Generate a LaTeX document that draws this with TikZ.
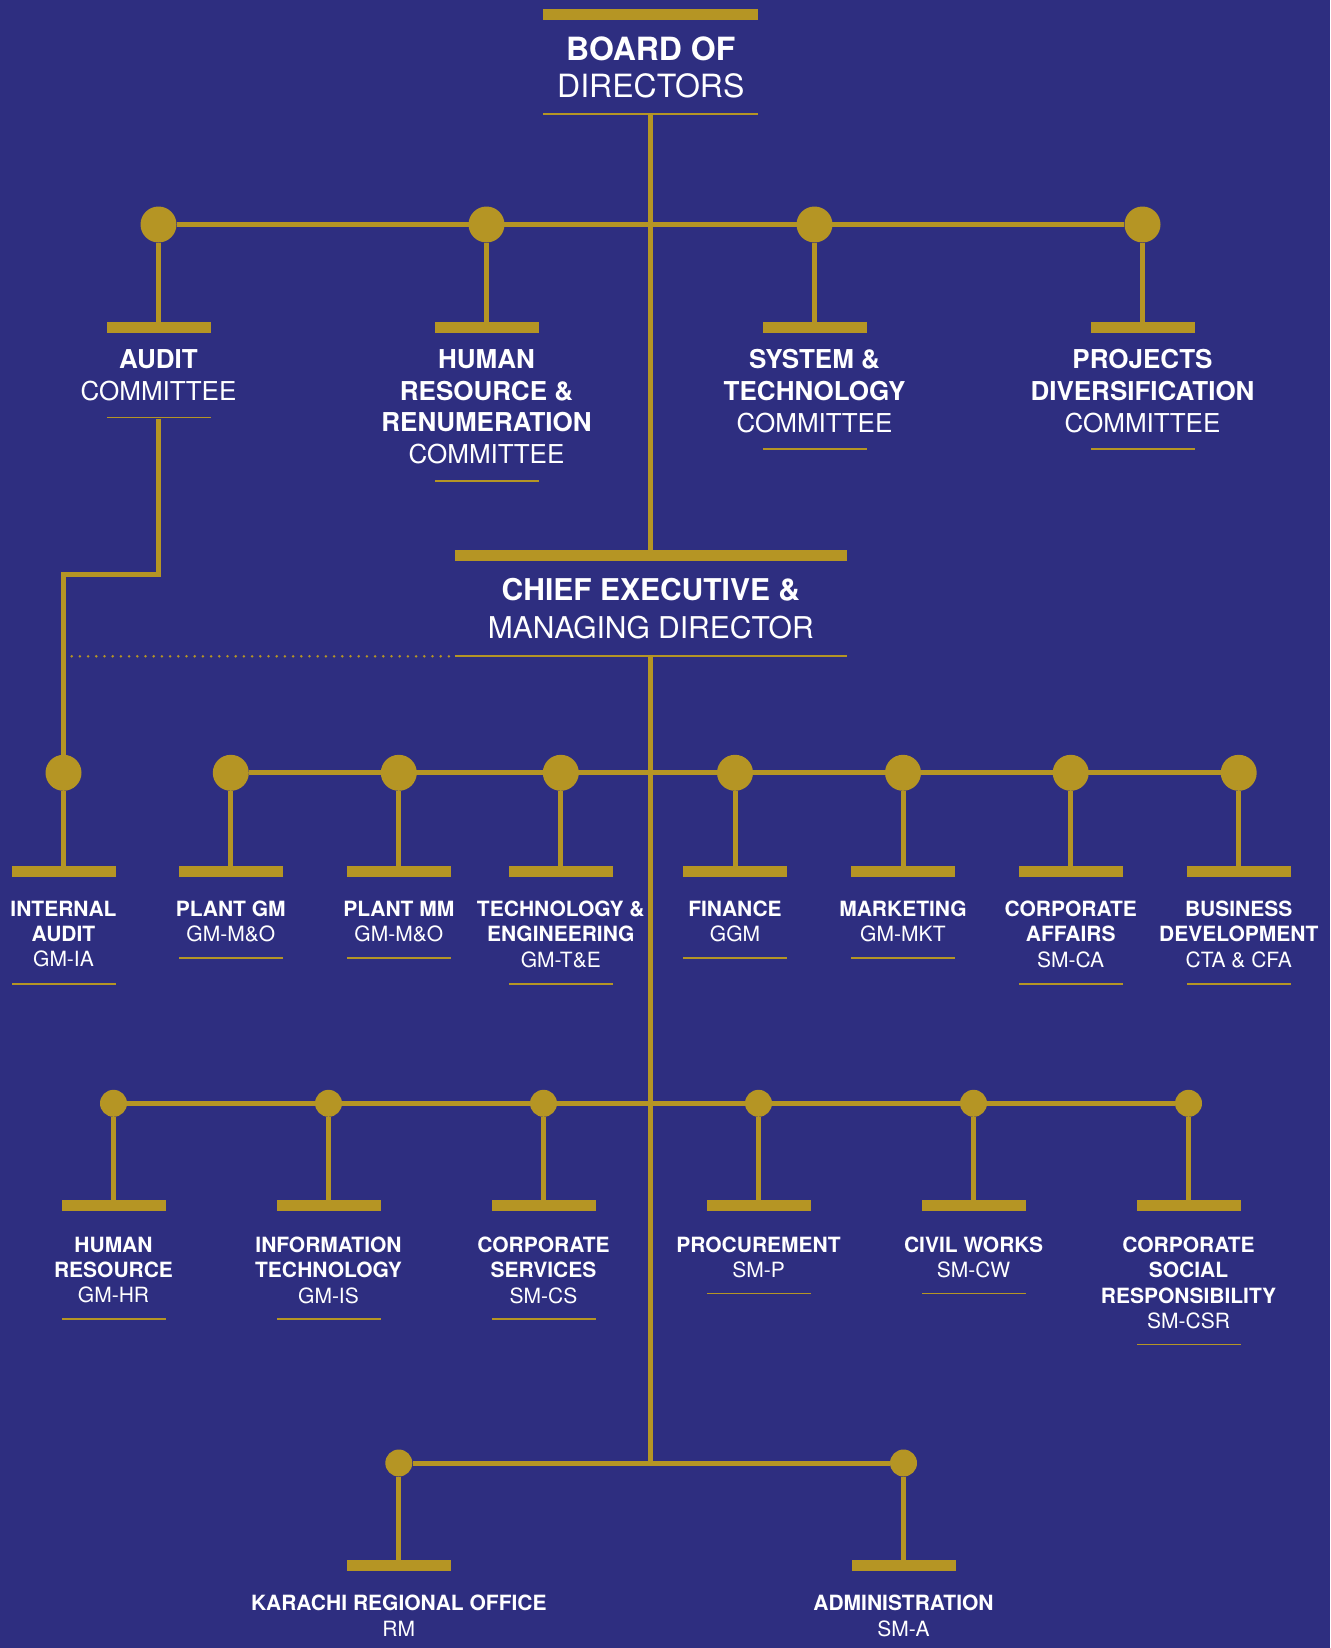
\documentclass[tikz,border=0pt]{standalone}
\usepackage{fontspec}
\setmainfont{TeX Gyre Heros}
\usetikzlibrary{positioning}
\definecolor{bgblue}{RGB}{46,46,128}
\definecolor{mustard}{RGB}{181,149,36}
\newcommand{\bodfont}{\fontsize{32}{37}\selectfont}
\newcommand{\ceofont}{\fontsize{30}{38}\selectfont}
\newcommand{\comfont}{\fontsize{26}{31.7}\selectfont}
\newcommand{\deptfont}{\fontsize{21}{25.3}\selectfont}

\begin{document}
\begin{tikzpicture}[x=1pt,y=-1pt]%
                    \fill[bgblue] (0,0) rectangle (1330,1648); %% background
                    \useasboundingbox (0,0) rectangle (1330,1648); %%
                    \tikzstyle{wire}=[mustard,line width=5pt]
                    \tikzstyle{dotline}=[mustard,line width=2.8pt,line cap=round,dash pattern=on 0pt off 8.2pt]
                    \tikzstyle{knob}=[circle,fill=mustard,inner sep=0pt,minimum size=36pt]
                    \tikzstyle{smallknob}=[circle,fill=mustard,inner sep=0pt,minimum size=27pt]
                    \tikzstyle{barbox}=[rectangle,fill=mustard,inner sep=0pt,minimum width=104pt,minimum height=10.7pt]
                    \tikzstyle{rulebox}=[rectangle,fill=mustard,inner sep=0pt,minimum width=104pt,minimum height=1.8pt]
                    \tikzstyle{txt}=[text=white,align=center,anchor=north,inner sep=0pt]
                    %% board and chief executive
                    \node[barbox,minimum width=215pt] (bodbar) at (650.8,14.7) {}; %%
                    \node[txt,font=\bodfont] (bod) at (650.8,37) {\textbf{BOARD OF}\\DIRECTORS}; %%
                    \node[rulebox,minimum width=215pt] (bodrule) at (650.8,114) {}; %%
                    \node[barbox,minimum width=392pt] (ceobar) at (650.8,555.3) {}; %%
                    \node[txt,font=\ceofont] (ceo) at (650.8,577.7) {\textbf{CHIEF EXECUTIVE \&}\\MANAGING DIRECTOR}; %%
                    \node[rulebox,minimum width=392pt] (ceorule) at (650.8,656.3) {}; %%
                    \coordinate (hub) at (650.8,1463); %%
                    %% committees
                    \foreach \n/\x in {au/158.5,hc/486.5,st/814.5,pd/1142.5}{
                        \node[knob] (k\n) at (\x,224.5) {}; %%
                        \node[barbox] (b\n) at (\x,327.7) {}; %%
                    }
                    \node[txt,font=\comfont] (tau) at (158.5,349.3) {\textbf{AUDIT}\\COMMITTEE}; %%
                    \node[txt,font=\comfont] (thc) at (486.5,349.3) {\textbf{HUMAN}\\\textbf{RESOURCE \&}\\\textbf{RENUMERATION}\\COMMITTEE}; %%
                    \node[txt,font=\comfont] (tst) at (814.5,349.3) {\textbf{SYSTEM \&}\\\textbf{TECHNOLOGY}\\COMMITTEE}; %%
                    \node[txt,font=\comfont] (tpd) at (1142.5,349.3) {\textbf{PROJECTS}\\\textbf{DIVERSIFICATION}\\COMMITTEE}; %%
                    %% departments under the chief executive
                    \foreach \n/\x in {ia/63.5,pg/230.8,pm/398.8,te/560.8,fi/735,mk/903,ca/1070.7,bd/1238.7}{
                        \node[knob] (k\n) at (\x,772.8) {}; %%
                        \node[barbox] (b\n) at (\x,871.3) {}; %%
                    }
                    \node[txt,font=\deptfont] (tia) at (63.5,900.7) {\textbf{INTERNAL}\\\textbf{AUDIT}\\GM-IA}; %%
                    \node[txt,font=\deptfont] (tpg) at (230.8,900.7) {\textbf{PLANT GM}\\GM-M\&O}; %%
                    \node[txt,font=\deptfont] (tpm) at (398.8,900.7) {\textbf{PLANT MM}\\GM-M\&O}; %%
                    \node[txt,font=\deptfont] (tte) at (560.8,900.7) {\textbf{TECHNOLOGY \&}\\\textbf{ENGINEERING}\\GM-T\&E}; %%
                    \node[txt,font=\deptfont] (tfi) at (735,900.7) {\textbf{FINANCE}\\GGM}; %%
                    \node[txt,font=\deptfont] (tmk) at (903,900.7) {\textbf{MARKETING}\\GM-MKT}; %%
                    \node[txt,font=\deptfont] (tca) at (1070.7,900.7) {\textbf{CORPORATE}\\\textbf{AFFAIRS}\\SM-CA}; %%
                    \node[txt,font=\deptfont] (tbd) at (1238.7,900.7) {\textbf{BUSINESS}\\\textbf{DEVELOPMENT}\\CTA \& CFA}; %%
                    \foreach \n/\x in {hr/113.5,it/328.5,cs/543.5,pr/758.5,cw/973.5,csr/1188.5}{
                        \node[smallknob] (k\n) at (\x,1103.3) {}; %%
                        \node[barbox] (b\n) at (\x,1205.8) {}; %%
                    }
                    \node[txt,font=\deptfont] (thr) at (113.5,1236.7) {\textbf{HUMAN}\\\textbf{RESOURCE}\\GM-HR}; %%
                    \node[txt,font=\deptfont] (tit) at (328.5,1236.7) {\textbf{INFORMATION}\\\textbf{TECHNOLOGY}\\GM-IS}; %%
                    \node[txt,font=\deptfont] (tcs) at (543.5,1236.7) {\textbf{CORPORATE}\\\textbf{SERVICES}\\SM-CS}; %%
                    \node[txt,font=\deptfont] (tpr) at (758.5,1236.7) {\textbf{PROCUREMENT}\\SM-P}; %%
                    \node[txt,font=\deptfont] (tcw) at (973.5,1236.7) {\textbf{CIVIL WORKS}\\SM-CW}; %%
                    \node[txt,font=\deptfont] (tcsr) at (1188.5,1236.7) {\textbf{CORPORATE}\\\textbf{SOCIAL}\\\textbf{RESPONSIBILITY}\\SM-CSR}; %%
                    \foreach \n/\x in {kr/398.8,ad/903.5}{
                        \node[smallknob] (k\n) at (\x,1463) {}; %%
                        \node[barbox] (b\n) at (\x,1565.3) {}; %%
                    }
                    \node[txt,font=\deptfont] (tkr) at (398.8,1595) {\textbf{KARACHI REGIONAL OFFICE}\\RM}; %%
                    \node[txt,font=\deptfont] (tad) at (903.5,1595) {\textbf{ADMINISTRATION}\\SM-A}; %%
                    %% thin rules under the titles
                    \foreach \n/\x/\y in {au/158.5/417.5,hc/486.5/481,st/814.5/449,pd/1142.5/449,
                        ia/63.5/984,pg/230.8/958,pm/398.8/958,te/560.8/984,fi/735/958,mk/903/958,ca/1070.7/984,bd/1238.7/984,
                        hr/113.5/1319,it/328.5/1319,cs/543.5/1319,pr/758.5/1293.5,cw/973.5/1293.5,csr/1188.5/1344.5}{
                        \node[rulebox] (r\n) at (\x,\y) {}; %%
                    }
                    %% connectors
                    \draw[wire] (bodrule.south)--(ceobar.north); %%
                    \draw[wire] (ceorule.south)--(hub); %%
                    \draw[wire] (kau)--(kpd); %%
                    \draw[wire] (kpg)--(kbd); %%
                    \draw[wire] (khr)--(kcsr); %%
                    \draw[wire] (kkr)--(kad); %%
                    \foreach \n in {au,hc,st,pd,ia,pg,pm,te,fi,mk,ca,bd,hr,it,cs,pr,cw,csr,kr,ad}{
                        \draw[wire] (k\n)--(b\n); %%
                    }
                    \coordinate (aubend) at (158.5,574); %%
                    \draw[wire] (rau.south)--(aubend)-|(kia.north); %%
                    \draw[dotline] (kia |- ceorule)--(ceorule.west); %%
                    \end{tikzpicture}
\end{document}
